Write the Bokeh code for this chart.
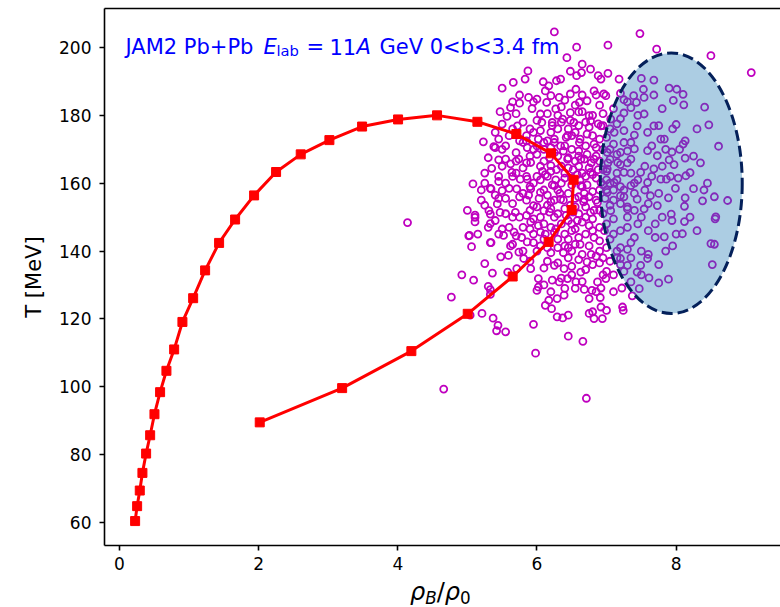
from bokeh.plotting import figure
from bokeh.models import Range1d, FixedTicker, LinearAxis, Label, Div
from bokeh.layouts import column
from bokeh.embed import file_html
from bokeh.resources import INLINE

# ---------------- data ----------------
x_ticks = [0, 2, 4, 6, 8]
y_ticks = [60, 80, 100, 120, 140, 160, 180, 200]

trajectory_rho = [0.225, 0.254, 0.292, 0.33, 0.383, 0.441, 0.503, 0.584, 0.675, 0.786,
                  0.905, 1.059, 1.231, 1.432, 1.662, 1.935, 2.251, 2.605, 3.017, 3.487,
                  4.004, 4.564, 5.144, 5.704, 6.202, 6.527, 6.499, 6.168, 5.651, 5.005,
                  4.195, 3.2, 2.016]
trajectory_T = [60.4, 64.8, 69.4, 74.6, 80.3, 85.7, 91.9, 98.4, 104.7, 111.0,
                119.1, 126.1, 134.3, 142.4, 149.3, 156.4, 163.3, 168.5, 172.7, 176.7,
                178.8, 180.0, 178.1, 174.5, 168.8, 161.0, 152.1, 142.7, 132.5, 121.5,
                110.5, 99.6, 89.5]

ellipse_rho = [7.93]
ellipse_T = [160.0]
ellipse_width_rho = [2.04]
ellipse_height_T = [76.8]

cloud_outer_left = [
    (4.14, 148.4), (4.66, 99.3), (4.77, 126.4), (4.92, 133.0), (5.06, 141.3), (5.03, 144.6), (5.34, 142.5), (5.25, 136.3), (5.09, 131.4), (5.36, 133.5),
    (5.30, 129.6), (5.33, 128.6), (5.33, 127.2), (5.21, 121.6), (5.37, 120.2), (5.44, 118.1), (5.42, 116.5), (5.55, 116.2), (5.95, 118.4), (5.98, 109.9),
    (5.04, 121.1), (5.48, 138.3), (5.62, 141.5), (5.59, 138.7), (5.58, 133.8), (5.71, 134.8), (5.81, 137.8), (5.91, 134.8), (6.00, 128.4), (6.02, 129.4),
    (6.12, 124.0), (6.02, 131.9), (5.74, 139.7), (5.86, 142.7), (5.52, 144.6), (5.67, 145.6), (6.05, 145.6), (5.91, 148.6), (5.11, 148.6), (5.33, 148.1),
]
cloud_lower = [
    (6.71, 96.6), (6.45, 114.9), (6.66, 113.4), (6.45, 121.1), (6.29, 120.6), (6.37, 120.3), (6.21, 123.0), (6.17, 125.5), (6.29, 126.0), (6.39, 127.0),
    (6.75, 121.6), (6.80, 122.1), (6.82, 120.1), (6.94, 120.1), (7.00, 122.5), (6.92, 123.5), (6.91, 126.3), (7.23, 123.5), (7.24, 122.5), (6.68, 128.7),
    (6.79, 128.4), (6.92, 129.1), (6.87, 130.9), (6.99, 131.9), (7.22, 129.1), (7.37, 126.8), (7.47, 128.9), (7.75, 130.6), (7.61, 132.1), (7.35, 130.9),
    (6.22, 131.4), (6.32, 130.9), (6.44, 131.9), (6.56, 130.9), (6.25, 135.8), (6.39, 134.8), (6.63, 133.8), (6.72, 136.8), (7.30, 135.8), (7.49, 135.8),
    (7.59, 137.8), (7.44, 133.8), (7.20, 137.8),
]
cloud_ellipse = [
    (8.09, 145.1), (7.95, 141.5), (8.50, 142.2), (8.52, 136.0), (7.89, 131.7), (8.12, 148.7), (7.94, 149.0), (8.56, 149.5), (7.83, 144.2),
    (8.50, 197.6), (9.08, 192.6), (7.90, 188.0), (8.01, 187.7), (8.10, 186.2), (7.96, 184.4), (8.11, 183.1), (8.41, 182.4), (8.00, 177.3), (8.47, 177.2),
    (7.83, 173.0), (8.13, 172.5), (8.10, 171.5), (8.61, 170.9), (7.94, 169.2), (7.90, 166.9), (7.97, 165.5), (8.13, 167.4), (8.20, 163.1), (8.14, 162.2),
    (8.03, 161.5), (7.92, 162.0), (7.86, 161.2), (7.99, 158.5), (8.25, 158.4), (7.89, 155.7), (8.13, 155.7), (8.12, 153.2), (8.38, 154.8), (8.74, 154.9),
    (8.57, 150.1), (7.93, 150.9), (7.95, 176.0), (8.05, 170.0), (8.30, 176.0), (8.35, 166.0), (8.20, 150.0), (8.30, 146.0), (8.00, 145.0), (8.40, 158.0),
    (8.25, 168.0), (8.45, 160.0), (8.55, 156.0), (8.55, 142.0),
]
cloud_upper = [
    (6.25, 204.6), (7.48, 204.1), (6.57, 200.1), (7.02, 200.7), (7.72, 199.5), (6.43, 197.0), (6.65, 195.1), (6.77, 193.6), (6.48, 193.0), (6.64, 192.6),
    (6.88, 191.7), (7.02, 192.4), (6.92, 190.7), (7.18, 190.7), (7.50, 190.9), (7.68, 190.4), (6.34, 190.7), (6.28, 190.2), (6.17, 188.7), (6.57, 191.7),
    (6.56, 187.7), (6.48, 186.3), (6.65, 186.0), (6.82, 187.2), (6.96, 186.3), (6.99, 185.8), (6.20, 185.8), (6.32, 185.3), (7.53, 187.7), (7.39, 185.8),
    (7.25, 184.6), (7.54, 185.3), (7.68, 186.0), (7.43, 183.8), (7.35, 182.3), (7.25, 180.7), (7.54, 180.4), (6.61, 183.8), (6.72, 184.3), (6.48, 180.8),
    (6.65, 181.1), (6.75, 179.9), (6.27, 181.9), (6.37, 178.9), (6.22, 177.9), (6.53, 177.9), (6.77, 178.4), (6.92, 176.9), (7.06, 178.9), (7.44, 176.9),
    (7.68, 176.9), (7.59, 175.0), (7.40, 174.2), (7.78, 173.0), (7.25, 172.0), (7.11, 175.0), (6.72, 174.5), (6.44, 174.0), (6.25, 173.0), (6.61, 172.0),
    (6.82, 171.5), (7.01, 169.1), (7.20, 169.1), (7.40, 170.1), (7.59, 169.6), (7.73, 168.1), (7.35, 167.1), (7.16, 166.1), (7.01, 164.2), (7.25, 163.2),
    (7.49, 163.2), (7.68, 164.2), (7.78, 161.2), (7.59, 160.2), (7.35, 159.3), (7.11, 160.2), (7.01, 157.3), (7.20, 156.3), (7.44, 155.3), (7.63, 156.3),
    (7.73, 153.4), (7.54, 152.4), (7.30, 152.4), (7.06, 151.9), (6.68, 155.3), (6.77, 151.4), (6.63, 159.3), (6.77, 163.2), (6.68, 167.1), (6.82, 167.1),
    (6.44, 167.1), (6.34, 171.0), (6.20, 165.2), (6.92, 160.2), (6.87, 154.3), (6.34, 155.3), (6.25, 159.3),
]
cloud_left_upper = [
    (5.87, 193.1), (5.83, 190.7), (5.66, 189.7), (6.09, 189.9), (6.12, 187.2), (6.00, 184.8), (5.88, 185.3), (5.75, 183.6), (5.62, 182.3), (5.47, 181.1),
    (5.57, 179.7), (5.72, 176.9), (5.93, 182.0), (6.05, 180.4), (6.14, 183.8), (5.50, 177.4), (5.40, 175.0), (5.23, 172.2), (5.38, 170.8), (5.95, 175.0),
    (6.07, 177.9), (5.86, 170.5), (6.10, 172.0), (5.55, 167.1), (5.45, 166.9), (5.35, 164.4), (5.62, 165.7), (5.74, 167.1), (5.91, 166.1), (5.64, 163.2),
    (5.86, 161.2), (5.76, 161.2), (5.08, 159.8), (5.33, 158.5), (5.50, 157.8), (5.55, 155.5), (5.71, 158.3), (5.91, 158.3), (6.05, 157.3), (5.43, 153.9),
    (5.31, 151.9), (5.47, 151.4), (5.69, 151.4), (5.11, 150.6), (5.95, 153.4), (6.10, 151.9), (5.40, 170.5), (5.34, 158.3), (5.11, 149.9), (5.02, 144.5),
    (5.33, 150.9), (5.33, 142.5), (5.70, 169.0), (5.60, 174.0), (5.80, 172.0), (5.50, 170.0), (5.25, 160.0), (5.45, 162.0), (5.20, 155.0), (5.30, 147.0),
    (5.15, 145.0), (5.00, 152.0), (5.70, 163.0), (5.80, 178.0), (5.90, 176.0), (5.75, 186.0), (5.65, 184.0), (5.50, 188.0),
]
cloud_core = [
    (6.05, 165), (6.15, 162), (6.30, 168), (6.40, 163), (6.50, 170), (6.60, 165), (6.70, 162), (6.85, 168), (6.95, 164), (7.05, 170),
    (7.15, 163), (7.30, 166), (7.45, 161), (7.55, 165), (6.10, 158), (6.25, 155), (6.35, 160), (6.45, 157), (6.55, 153), (6.65, 159),
    (6.75, 156), (6.90, 152), (7.00, 158), (7.10, 155), (7.20, 159), (7.30, 153), (7.40, 157), (7.50, 150), (7.60, 154), (7.70, 148),
    (6.05, 150), (6.20, 147), (6.30, 151), (6.40, 145), (6.50, 148), (6.60, 144), (6.70, 150), (6.80, 146), (6.90, 143), (7.00, 148),
    (7.10, 145), (7.20, 141), (7.30, 147), (7.40, 144), (7.50, 140), (7.60, 146), (6.00, 140), (6.15, 137), (6.30, 141), (6.45, 138),
    (6.55, 142), (6.65, 139), (6.80, 136), (6.90, 140), (7.05, 137), (7.15, 140), (7.25, 134), (7.35, 138), (7.50, 133), (5.85, 162),
    (5.75, 156), (5.90, 152), (5.80, 147), (5.65, 150), (5.95, 145), (5.55, 160), (5.60, 147), (5.45, 145), (6.20, 175), (6.35, 178),
    (6.50, 174), (6.60, 177), (6.80, 180), (6.90, 173), (7.05, 176), (7.20, 179), (7.35, 172), (7.45, 180), (7.65, 171), (6.10, 170),
    (6.25, 172), (6.45, 176), (6.70, 171), (6.95, 177), (7.10, 182), (7.30, 184), (6.55, 183), (6.85, 186), (6.12, 162.5), (6.28, 164),
    (6.62, 161), (6.78, 166), (7.00, 161), (7.25, 158), (7.55, 158), (7.65, 162), (7.75, 157), (7.80, 150), (7.70, 144), (7.60, 139),
    (7.75, 136), (7.85, 140), (7.80, 165), (7.85, 170), (7.75, 177), (7.80, 182), (6.35, 132), (6.55, 129), (6.75, 126), (6.95, 133),
    (7.10, 128), (6.20, 128),
]
cloud_dense = [
    (5.95, 184), (6.40, 184.5), (6.90, 183), (7.20, 186.5),
    (5.70, 180.5), (6.00, 178.5), (6.30, 180), (6.60, 181), (6.95, 180.5), (7.15, 177.5),
    (5.45, 173), (5.65, 176), (5.85, 174), (6.05, 175.5), (6.30, 176), (6.55, 175), (6.75, 176.5), (7.00, 173.5), (7.25, 175.5),
    (5.55, 171), (5.75, 172.5), (5.95, 170), (6.15, 172.5), (6.40, 171), (6.60, 169.5), (6.85, 170.5), (7.10, 171.5), (7.30, 169.5),
    (5.30, 167.5), (5.50, 165), (5.70, 166.5), (5.90, 168), (6.10, 166.5), (6.25, 169), (6.45, 167.5), (6.60, 168), (6.75, 164.5), (6.90, 166.5), (7.05, 167), (7.20, 165.5),
    (5.25, 163), (5.45, 160.5), (5.65, 162), (5.80, 164.5), (6.00, 162), (6.20, 163.5), (6.35, 165), (6.50, 161.5), (6.65, 163), (6.85, 161.5), (7.00, 163.5), (7.15, 161), (7.35, 163),
    (5.20, 158), (5.40, 156.5), (5.60, 158.5), (5.80, 157), (5.95, 160), (6.15, 156.5), (6.30, 158), (6.50, 159.5), (6.60, 156), (6.80, 157.5), (6.95, 159.5), (7.10, 158), (7.25, 156), (7.40, 160),
    (5.25, 153.5), (5.45, 155.5), (5.65, 154), (5.85, 155), (6.00, 153), (6.20, 154.5), (6.40, 152.5), (6.55, 155.5), (6.70, 153), (6.85, 155), (7.05, 153.5), (7.20, 154), (7.40, 152),
    (5.40, 149), (5.55, 151), (5.75, 150), (5.95, 149.5), (6.10, 148), (6.25, 150), (6.45, 149), (6.60, 151), (6.80, 149.5), (6.95, 151), (7.10, 149.5), (7.30, 150), (7.45, 148),
    (5.50, 146.5), (5.70, 144.5), (5.90, 146.5), (6.10, 143.5), (6.25, 145.5), (6.45, 143.5), (6.55, 146.5), (6.70, 145), (6.90, 147), (7.05, 143.5), (7.20, 146), (7.35, 142.5),
    (5.65, 142), (5.80, 140), (6.05, 141.5), (6.20, 139.5), (6.40, 141.5), (6.50, 140), (6.75, 141.5), (6.85, 138.5), (7.00, 141), (7.15, 138), (7.30, 140.5),
    (5.90, 137), (6.10, 135), (6.30, 136.5), (6.50, 135.5), (6.70, 134.5), (6.90, 136.5), (7.00, 134), (7.20, 136),
    (6.10, 130), (6.50, 133), (6.65, 131), (6.85, 128), (7.10, 133), (6.40, 129),
]
cloud_centre = [
    (5.85, 166), (6.00, 168.5), (6.18, 167.5), (6.38, 169.5), (6.55, 166.5), (6.72, 168.5), (6.88, 164), (7.02, 166),
    (5.90, 159), (6.05, 161), (6.22, 159.5), (6.40, 161.5), (6.58, 162.5), (6.72, 159.5), (6.90, 158), (7.05, 160),
    (5.88, 156.5), (6.03, 155.5), (6.20, 152.5), (6.38, 155), (6.52, 151.5), (6.68, 157), (6.82, 152), (6.98, 155.5),
    (5.85, 150.5), (6.02, 147.5), (6.18, 151.5), (6.35, 148), (6.50, 146), (6.65, 148.5), (6.82, 144), (6.97, 146),
    (5.78, 144), (5.95, 142.5), (6.12, 145), (6.30, 143.5), (6.45, 141), (6.62, 142), (6.78, 139), (6.95, 138),
    (5.85, 172.5), (6.02, 173), (6.20, 170.5), (6.42, 173.5), (6.62, 173), (6.80, 174), (6.95, 170), (7.15, 168.5),
    (6.08, 163.5), (6.27, 161), (6.45, 164.5), (6.63, 167), (6.80, 162.5), (6.33, 157), (6.48, 153.5), (6.67, 154.5),
    (6.15, 153.5), (6.42, 150.5), (6.58, 149), (6.75, 147.5), (6.27, 146.5), (6.38, 139.5), (6.60, 137.5), (6.15, 141),
    (6.00, 171), (6.22, 177), (6.48, 178.5), (6.70, 178), (6.88, 177.5), (6.35, 182.5), (6.15, 180.5), (6.52, 164),
]

# ---------------- figure ----------------
FONT = "DejaVu Sans"
p = figure(frame_width=676, frame_height=537,
           x_range=Range1d(-0.215, 9.5), y_range=Range1d(53.2, 211.5),
           output_backend="svg", toolbar_location=None,
           min_border_left=104, min_border_right=0, min_border_top=8, min_border_bottom=32)
p.outline_line_color = None
p.xgrid.visible = False
p.ygrid.visible = False
p.background_fill_color = "white"
p.border_fill_color = "white"

for ax in (p.xaxis[0], p.yaxis[0]):
    ax.axis_line_width = 1.6
    ax.axis_line_color = "black"
    ax.major_tick_line_width = 1.6
    ax.major_tick_in = 0
    ax.major_tick_out = 5
    ax.minor_tick_in = 0
    ax.minor_tick_out = 0
    ax.major_label_text_font = FONT
    ax.major_label_text_font_size = "17px"
    ax.major_label_text_color = "black"

p.xaxis[0].ticker = FixedTicker(ticks=x_ticks)
p.yaxis[0].ticker = FixedTicker(ticks=y_ticks)
p.xaxis[0].major_label_standoff = 6
p.yaxis[0].major_label_standoff = 8
p.yaxis[0].axis_label = "T [MeV]"
p.yaxis[0].axis_label_text_font = FONT
p.yaxis[0].axis_label_text_font_size = "21px"
p.yaxis[0].axis_label_text_font_style = "normal"
p.yaxis[0].axis_label_text_color = "black"
p.yaxis[0].axis_label_standoff = 10

top_axis = LinearAxis(ticker=FixedTicker(ticks=[]), axis_line_width=1.6, axis_line_color="black",
                      major_tick_in=0, major_tick_out=0, minor_tick_in=0, minor_tick_out=0,
                      major_label_text_font_size="0px", major_label_standoff=0)
p.add_layout(top_axis, "above")

# scatter cloud (drawn first, the ellipse overlays it)
cloud = (cloud_outer_left + cloud_lower + cloud_ellipse + cloud_upper +
         cloud_left_upper + cloud_core + cloud_dense + cloud_centre)
p.scatter([c[0] for c in cloud], [c[1] for c in cloud], marker="circle", size=7,
          fill_color=None, line_color="#bf00bf", line_width=1.8)

p.ellipse(x=ellipse_rho, y=ellipse_T, width=ellipse_width_rho, height=ellipse_height_T,
          fill_color="#1f77b4", fill_alpha=0.37, line_color="#04205a", line_width=3,
          line_dash="11 5")

p.line(trajectory_rho, trajectory_T, line_color="#ff0000", line_width=3)
p.scatter(trajectory_rho, trajectory_T, marker="square", size=9, fill_color="#ff0000",
          line_color="#ff0000")

def piece(text, x, y, size, style="normal", color="black"):
    p.add_layout(Label(x=x, y=y, x_units="screen", y_units="screen", text=text,
                       text_font=FONT, text_font_size=size, text_font_style=style,
                       text_color=color, text_baseline="alphabetic", text_align="left"))

# in-plot annotation (frame-relative screen coordinates)
blue = "#0000ff"
piece("JAM2 Pb+Pb", 21, 499, "21px", color=blue)
piece("E", 159, 499, "21px", "italic", blue)
piece("lab", 172, 495, "14.7px", color=blue)
piece("=", 202, 499, "21px", color=blue)
piece("11", 225, 499, "21px", color=blue)
piece("A", 252, 499, "21px", "italic", blue)
piece("GeV 0<b<3.4 fm", 275, 499, "21px", color=blue)

# x-axis label (rho_B / rho_0) as a text strip under the plot
sub = "font-size:16.8px;vertical-align:-4px;line-height:24px"
xlabel_html = (
    '<span style="position:absolute;left:410px;top:3px;font-family:\'DejaVu Sans\';'
    'font-size:24px;line-height:24px;color:black;white-space:nowrap">'
    '<i>ρ</i><sub style="' + sub + '"><i>B</i></sub>/<i>ρ</i>'
    '<sub style="' + sub + '">0</sub></span>'
)
xlabel = Div(text=xlabel_html, width=780, height=30, margin=(0, 0, 0, 0),
             styles={"position": "relative", "overflow": "visible"})

layout = column(p, xlabel, spacing=0)
open("out.html", "w").write(file_html(layout, INLINE))
